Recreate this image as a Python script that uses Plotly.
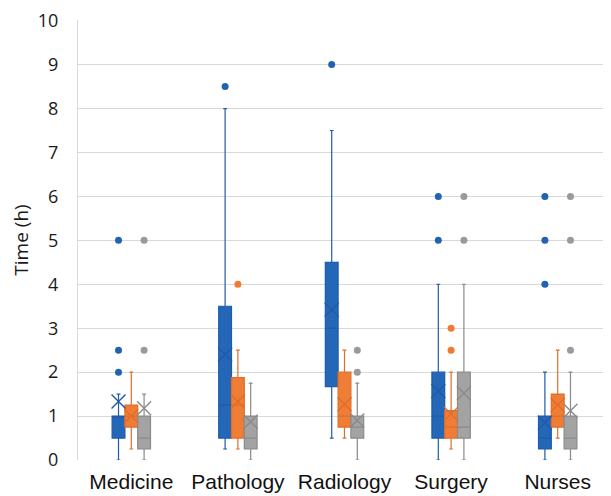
import plotly.graph_objects as go

categories = ["Medicine", "Pathology", "Radiology", "Surgery", "Nurses"]

# Series 1 (blue)
s1_q1 = [0.5, 0.5, 1.67, 0.5, 0.25]
s1_median = [1.0, 1.25, 3.0, 1.0, 0.5]
s1_q3 = [1.0, 3.5, 4.5, 2.0, 1.0]
s1_low = [0, 0.25, 0.5, 0, 0]
s1_high = [1.5, 8.0, 7.5, 4.0, 2.0]
s1_mean = [1.33, 2.4, 3.42, 1.57, 0.85]
s1_out = [[2, 2.5, 5], [8.5], [9], [5, 6], [4, 5, 6]]

# Series 2 (orange)
s2_q1 = [0.75, 0.5, 0.75, 0.5, 0.75]
s2_median = [1.0, 1.25, 1.0, 0.75, 1.0]
s2_q3 = [1.25, 1.875, 2.0, 1.125, 1.5]
s2_low = [0.25, 0.25, 0.5, 0.25, 0.5]
s2_high = [2.0, 2.5, 2.5, 2.0, 2.5]
s2_mean = [1.0, 1.33, 1.27, 1.05, 1.25]
s2_out = [[], [4], [], [2.5, 3], []]

# Series 3 (gray)
s3_q1 = [0.25, 0.25, 0.5, 0.5, 0.25]
s3_median = [0.5, 0.5, 0.75, 0.75, 0.5]
s3_q3 = [1.0, 1.0, 1.0, 2.0, 1.0]
s3_low = [0, 0, 0, 0, 0]
s3_high = [1.5, 1.75, 1.75, 4.0, 2.0]
s3_mean = [1.18, 0.87, 0.9, 1.52, 1.12]
s3_out = [[2.5, 5], [], [2, 2.5], [5, 6], [2.5, 5, 6]]

yticks = list(range(0, 11))

series = [
    dict(q1=s1_q1, med=s1_median, q3=s1_q3, lo=s1_low, hi=s1_high, mean=s1_mean, out=s1_out,
         fill="#2466B8", line="#1F5BA8", pt="#2162B3"),
    dict(q1=s2_q1, med=s2_median, q3=s2_q3, lo=s2_low, hi=s2_high, mean=s2_mean, out=s2_out,
         fill="#F07D36", line="#E06E28", pt="#EE7B33"),
    dict(q1=s3_q1, med=s3_median, q3=s3_q3, lo=s3_low, hi=s3_high, mean=s3_mean, out=s3_out,
         fill="#A3A3A3", line="#8A8A8A", pt="#9A9A9A"),
]

bw = 0.12
offsets = [-bw, 0, bw]

fig = go.Figure()
for s, off in zip(series, offsets):
    xs = [i + off for i in range(len(categories))]
    fig.add_trace(go.Box(
        x=xs, q1=s["q1"], median=s["med"], q3=s["q3"],
        lowerfence=s["lo"], upperfence=s["hi"],
        width=bw, whiskerwidth=0.3, boxpoints=False,
        fillcolor=s["fill"], line=dict(color=s["line"], width=1.2),
        showlegend=False, hoverinfo="skip",
    ))
    fig.add_trace(go.Scatter(
        x=xs, y=s["mean"], mode="markers",
        marker=dict(symbol="x-thin-open", size=14, color=s["line"],
                    line=dict(width=1.4, color=s["line"])),
        showlegend=False, hoverinfo="skip",
    ))
    ox, oy = [], []
    for i, vals in enumerate(s["out"]):
        for v in vals:
            ox.append(i + off)
            oy.append(v)
    fig.add_trace(go.Scatter(
        x=ox, y=oy, mode="markers",
        marker=dict(symbol="circle", size=7, color=s["pt"]),
        showlegend=False, hoverinfo="skip",
    ))

# the page body adds an 8px offset; margins compensate
fig.update_layout(
    width=611, height=496,
    margin=dict(l=70, r=8, t=12, b=44),
    paper_bgcolor="white", plot_bgcolor="white",
    boxmode="overlay",
)
fig.update_xaxes(
    range=[-0.5, 4.5], automargin=False,
    tickmode="array", tickvals=list(range(len(categories))), ticktext=categories,
    tickfont=dict(family="Liberation Sans", size=21, color="#111"),
    showgrid=False, zeroline=False, showline=False,
    ticks="", ticklabelstandoff=7, ticklabeloverflow="allow",
)
fig.update_yaxes(
    range=[0, 10.015], tickmode="array", tickvals=yticks, automargin=False,
    tickfont=dict(family="Open Sans", size=18, color="#1a1a1a"),
    showgrid=True, gridcolor="#D9D9D9", gridwidth=1,
    zeroline=False, showline=True, linecolor="#D9D9D9", linewidth=1,
    ticks="", ticklabelstandoff=15, ticklabeloverflow="allow",
    title=dict(text="Time (h)", font=dict(family="Open Sans", size=19, color="#1a1a1a"), standoff=12),
)

fig.write_html("out.html")
